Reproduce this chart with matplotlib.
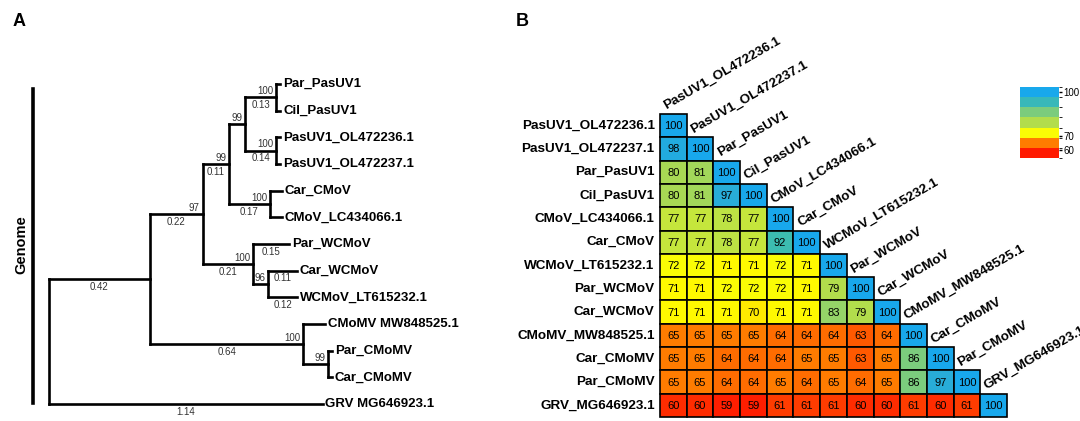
import numpy as np
import matplotlib
matplotlib.use("Agg")
import matplotlib.pyplot as plt
from matplotlib.colors import LinearSegmentedColormap, ListedColormap, BoundaryNorm
from matplotlib.patches import Rectangle
from matplotlib.lines import Line2D
import matplotlib.cm as cm

plt.rcParams["font.family"] = ["Liberation Sans", "DejaVu Sans"]

# ---- tree (A) ----
leaf_names = ["Par_PasUV1", "Cil_PasUV1", "PasUV1_OL472236.1", "PasUV1_OL472237.1",
              "Car_CMoV", "CMoV_LC434066.1", "Par_WCMoV", "Car_WCMoV",
              "WCMoV_LT615232.1", "CMoMV MW848525.1", "Par_CMoMV", "Car_CMoMV",
              "GRV MG646923.1"]
node_id = ["root", "n1", "GRV MG646923.1", "n2", "cmomv", "n3", "wc", "n4", "cmov",
           "pas_a", "pas_b", "Par_PasUV1", "Cil_PasUV1", "PasUV1_OL472236.1",
           "PasUV1_OL472237.1", "Car_CMoV", "CMoV_LC434066.1", "Par_WCMoV", "wc2",
           "Car_WCMoV", "WCMoV_LT615232.1", "CMoMV MW848525.1", "cmomv2",
           "Par_CMoMV", "Car_CMoMV"]
node_parent = [None, "root", "root", "n1", "n1", "n2", "n2", "n3", "n3",
               "n4", "n4", "pas_a", "pas_a", "pas_b",
               "pas_b", "cmov", "cmov", "wc", "wc",
               "wc2", "wc2", "cmomv", "cmomv",
               "cmomv2", "cmomv2"]
branch_len = [0, 0.42, 1.14, 0.22, 0.64, 0.11, 0.21, 0.067, 0.17,
              0.13, 0.13, 0.017, 0.017, 0.017,
              0.017, 0.05, 0.05, 0.15, 0.063,
              0.12, 0.12, 0.09, 0.104,
              0.015, 0.015]
support = ["", "", "", "97", "100", "99", "100", "99", "100",
           "100", "100", "", "", "",
           "", "", "", "", "96",
           "", "", "", "99",
           "", ""]
len_label = ["", "0.42", "1.14", "0.22", "0.64", "0.11", "0.21", "", "0.17",
             "0.13", "0.14", "", "", "",
             "", "", "", "0.15", "",
             "0.11", "0.12", "", "",
             "", ""]

# ---- identity matrix (B) ----
mat_names = ["PasUV1_OL472236.1", "PasUV1_OL472237.1", "Par_PasUV1", "Cil_PasUV1",
             "CMoV_LC434066.1", "Car_CMoV", "WCMoV_LT615232.1", "Par_WCMoV",
             "Car_WCMoV", "CMoMV_MW848525.1", "Car_CMoMV", "Par_CMoMV",
             "GRV_MG646923.1"]
identity = [
    [100],
    [98, 100],
    [80, 81, 100],
    [80, 81, 97, 100],
    [77, 77, 78, 77, 100],
    [77, 77, 78, 77, 92, 100],
    [72, 72, 71, 71, 72, 71, 100],
    [71, 71, 72, 72, 72, 71, 79, 100],
    [71, 71, 71, 70, 71, 71, 83, 79, 100],
    [65, 65, 65, 65, 64, 64, 64, 63, 64, 100],
    [65, 65, 64, 64, 64, 65, 65, 63, 65, 86, 100],
    [65, 65, 64, 64, 65, 64, 65, 64, 65, 86, 97, 100],
    [60, 60, 59, 59, 61, 61, 61, 60, 60, 61, 60, 61, 100],
]
cbar_ticks = [60, 70, 100]

# colour ramp
ramp_vals = [55, 59, 61, 63, 64, 65, 68, 70, 71.5, 77, 80, 83, 86, 92, 97, 100]
ramp_cols = ["#ff1000", "#ff1e00", "#ff3c00", "#ff5a00", "#ff6c00", "#ff7e00",
             "#ffc000", "#ffea00", "#ffff00", "#c6e63c", "#a8d854", "#96d468",
             "#7ccc7c", "#3cbcb0", "#28acd8", "#18a8ec"]
lo, hi = 55, 100
cmap = LinearSegmentedColormap.from_list(
    "ident", [((v - lo) / (hi - lo), c) for v, c in zip(ramp_vals, ramp_cols)])
norm = plt.Normalize(lo, hi)

W, H = 1080, 421
fig = plt.figure(figsize=(W / 100, H / 100), dpi=100)


def box(x0, y0, x1, y1):
    return [x0 / W, 1 - y1 / H, (x1 - x0) / W, (y1 - y0) / H]


# ---------------- tree ----------------
ax = fig.add_axes(box(49, 84, 529, 404))
ax.set_xlim(0, 2.0)
ax.set_ylim(len(leaf_names) - 1, 0)
ax.axis("off")

par = dict(zip(node_id, node_parent))
blen = dict(zip(node_id, branch_len))
xs = {}
for n in node_id:
    xs[n] = 0 if par[n] is None else xs[par[n]] + blen[n]
children = {n: [c for c in node_id if par[c] == n] for n in node_id}
ys = {}


def get_y(n):
    if n in ys:
        return ys[n]
    if n in leaf_names:
        ys[n] = leaf_names.index(n)
    else:
        cy = [get_y(c) for c in children[n]]
        ys[n] = (min(cy) + max(cy)) / 2
    return ys[n]


for n in node_id:
    get_y(n)

lw = 1.9
for n, p, s, ll in zip(node_id, node_parent, support, len_label):
    if p is not None:
        ax.plot([xs[p], xs[n]], [ys[n], ys[n]], color="k", lw=lw,
                solid_capstyle="projecting", clip_on=False)
        if s:
            ax.annotate(s, (xs[n], ys[n]), xytext=(-2, 1), textcoords="offset points",
                        ha="right", va="bottom", fontsize=7, color="#333333")
        if ll:
            ax.annotate(ll, ((xs[p] + xs[n]) / 2, ys[n]), xytext=(0, -2),
                        textcoords="offset points", ha="center", va="top",
                        fontsize=7, color="#333333")
    if children[n]:
        cy = [ys[c] for c in children[n]]
        ax.plot([xs[n], xs[n]], [min(cy), max(cy)], color="k", lw=lw,
                solid_capstyle="projecting", clip_on=False)
for n in leaf_names:
    ax.annotate(n, (xs[n], ys[n]), xytext=(2, 0), textcoords="offset points",
                ha="left", va="center", fontsize=9.5, fontweight="bold")

fig.add_artist(Line2D([33 / W, 33 / W], [1 - 89 / H, 1 - 403 / H], color="k", lw=2.6))
fig.text(21 / W, 1 - 245 / H, "Genome", rotation=90, ha="center", va="center",
         fontsize=10.5, fontweight="bold")
fig.text(19 / W, 1 - 22 / H, "A", ha="center", va="center", fontsize=13, fontweight="bold")
fig.text(522 / W, 1 - 22 / H, "B", ha="center", va="center", fontsize=13, fontweight="bold")

# ---------------- matrix ----------------
n = len(mat_names)
bx = fig.add_axes(box(660, 114, 1007, 417))
bx.set_xlim(0, n)
bx.set_ylim(n, 0)
bx.axis("off")
for i, row in enumerate(identity):
    for j, v in enumerate(row):
        bx.add_patch(Rectangle((j, i), 1, 1, facecolor=cmap(norm(v)), edgecolor="k",
                               lw=1.2, clip_on=False))
        bx.text(j + 0.5, i + 0.52, str(v), ha="center", va="center", fontsize=8)
    bx.text(-0.2, i + 0.5, mat_names[i], ha="right", va="center", fontsize=9.7,
            fontweight="bold")
    bx.text(i + 0.3, i - 0.08, mat_names[i], rotation=30, rotation_mode="anchor",
            ha="left", va="bottom", fontsize=9.7, fontweight="bold")

# colour bar (banded)
bounds = [54.5, 61.5, 68.5, 75.5, 82.5, 89.5, 96.5, 103.5]
band_cols = [cmap(norm(min(max((a + b) / 2, lo), hi))) for a, b in zip(bounds[:-1], bounds[1:])]
cax = fig.add_axes(box(1020, 87, 1059, 158))
sm = cm.ScalarMappable(cmap=ListedColormap(band_cols), norm=BoundaryNorm(bounds, len(band_cols)))
cb = fig.colorbar(sm, cax=cax, ticks=cbar_ticks)
cb.outline.set_visible(False)
cax.tick_params(labelsize=7, length=2.5, width=1, pad=0.5)

fig.savefig("out.png", dpi=100)
